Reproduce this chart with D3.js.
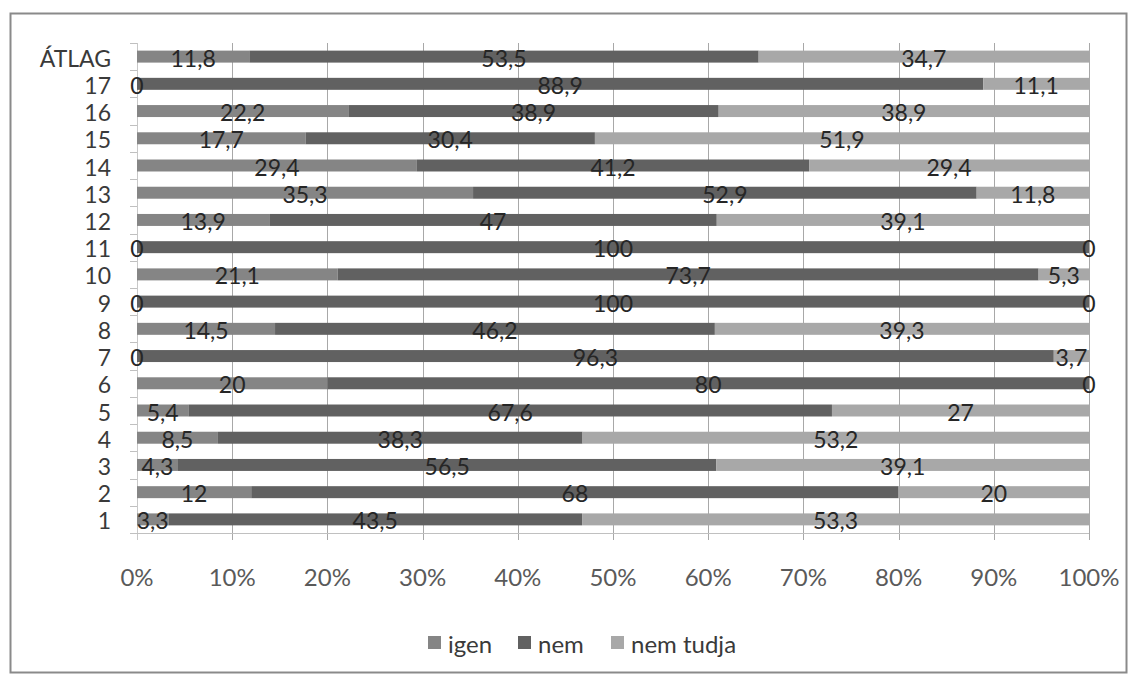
<!DOCTYPE html>
<html><head><meta charset="utf-8">
<script src="https://cdn.jsdelivr.net/npm/d3@7"></script>
<style>body{margin:0;background:#fff}svg{display:block}</style>
</head><body>
<svg id="c" width="1135" height="675"></svg>
<script>
const categories = ["ÁTLAG","17","16","15","14","13","12","11","10","9","8","7","6","5","4","3","2","1"];
const igen      = [11.8, 0, 22.2, 17.7, 29.4, 35.3, 13.9, 0, 21.1, 0, 14.5, 0, 20, 5.4, 8.5, 4.3, 12, 3.3];
const nem       = [53.5, 88.9, 38.9, 30.4, 41.2, 52.9, 47, 100, 73.7, 100, 46.2, 96.3, 80, 67.6, 38.3, 56.5, 68, 43.5];
const nemTudja  = [34.7, 11.1, 38.9, 51.9, 29.4, 11.8, 39.1, 0, 5.3, 0, 39.3, 3.7, 0, 27, 53.2, 39.1, 20, 53.3];
const seriesNames = ["igen","nem","nem tudja"];
const xTicks = [0,0.1,0.2,0.3,0.4,0.5,0.6,0.7,0.8,0.9,1];

const colors = {"igen":"#858585","nem":"#616161","nem tudja":"#a8a8a8"};
const FONT = "Lato, 'Open Sans', sans-serif";

const rows = categories.map((c,i)=>({cat:c, "igen":igen[i], "nem":nem[i], "nem tudja":nemTudja[i]}));
const stack = d3.stack().keys(seriesNames).offset(d3.stackOffsetExpand);
const stacked = stack(rows);

const svg = d3.select("#c");
// outer frame
svg.append("rect").attr("x",10.5).attr("y",13.5).attr("width",1116).attr("height",659)
  .attr("fill","#fff").attr("stroke","#8a8a8a").attr("stroke-width",2);

const x = d3.scaleLinear().domain([0,1]).range([137,1089]);
const y = d3.scaleBand().domain(categories).range([43,533]).paddingInner(0.56).paddingOuter(0.28);

// gridlines
svg.append("g").selectAll("line").data(xTicks).join("line")
  .attr("x1",d=>Math.round(x(d))+0.5).attr("x2",d=>Math.round(x(d))+0.5)
  .attr("y1",43).attr("y2",540)
  .attr("stroke",d=>d===0?"#c8c8c8":"#a8a8a8").attr("stroke-width",1);

// bottom axis line
svg.append("line").attr("x1",130).attr("x2",1089).attr("y1",533.5).attr("y2",533.5)
  .attr("stroke","#c0c0c0");

// y axis ticks at band boundaries
const boundaries = d3.range(categories.length+1).map(i=>43 + i*(490/categories.length));
svg.append("g").selectAll("line").data(boundaries).join("line")
  .attr("x1",130).attr("x2",137).attr("y1",d=>Math.round(d)+0.5).attr("y2",d=>Math.round(d)+0.5)
  .attr("stroke","#c0c0c0");

// bars
const g = svg.append("g");
stacked.forEach(s=>{
  g.append("g").selectAll("rect").data(s).join("rect")
    .attr("x",d=>x(d[0])).attr("width",d=>x(d[1])-x(d[0]))
    .attr("y",d=>y(d.data.cat)).attr("height",y.bandwidth())
    .attr("fill",colors[s.key]);
});

// data labels
stacked.forEach(s=>{
  g.append("g").selectAll("text").data(s).join("text")
    .attr("x",d=>x((d[0]+d[1])/2)).attr("y",d=>y(d.data.cat)+y.bandwidth()/2+1)
    .attr("text-anchor","middle").attr("dominant-baseline","central")
    .attr("font-family",FONT).attr("font-size",23).attr("fill","#262626")
    .text(d=>String(d.data[s.key]).replace(".",","));
});

// y labels
svg.append("g").selectAll("text").data(categories).join("text")
  .attr("x",111).attr("y",d=>y(d)+y.bandwidth()/2+1)
  .attr("text-anchor","end").attr("dominant-baseline","central")
  .attr("font-family",FONT).attr("font-size",23).attr("fill","#3a3a3a")
  .text(d=>d);

// x labels
svg.append("g").selectAll("text").data(xTicks).join("text")
  .attr("x",d=>x(d)).attr("y",576)
  .attr("text-anchor","middle").attr("dominant-baseline","central")
  .attr("font-family",FONT).attr("font-size",24).attr("fill","#5a5a5a")
  .text(d=>Math.round(d*100)+"%");

// legend
const legendX = [428, 518, 611];
const lg = svg.append("g");
seriesNames.forEach((n,i)=>{
  lg.append("rect").attr("x",legendX[i]).attr("y",636).attr("width",13).attr("height",13).attr("fill",colors[n]);
  lg.append("text").attr("x",legendX[i]+20).attr("y",643)
    .attr("dominant-baseline","central").attr("font-family",FONT).attr("font-size",24).attr("fill","#3a3a3a")
    .text(n);
});
</script>
</body></html>
